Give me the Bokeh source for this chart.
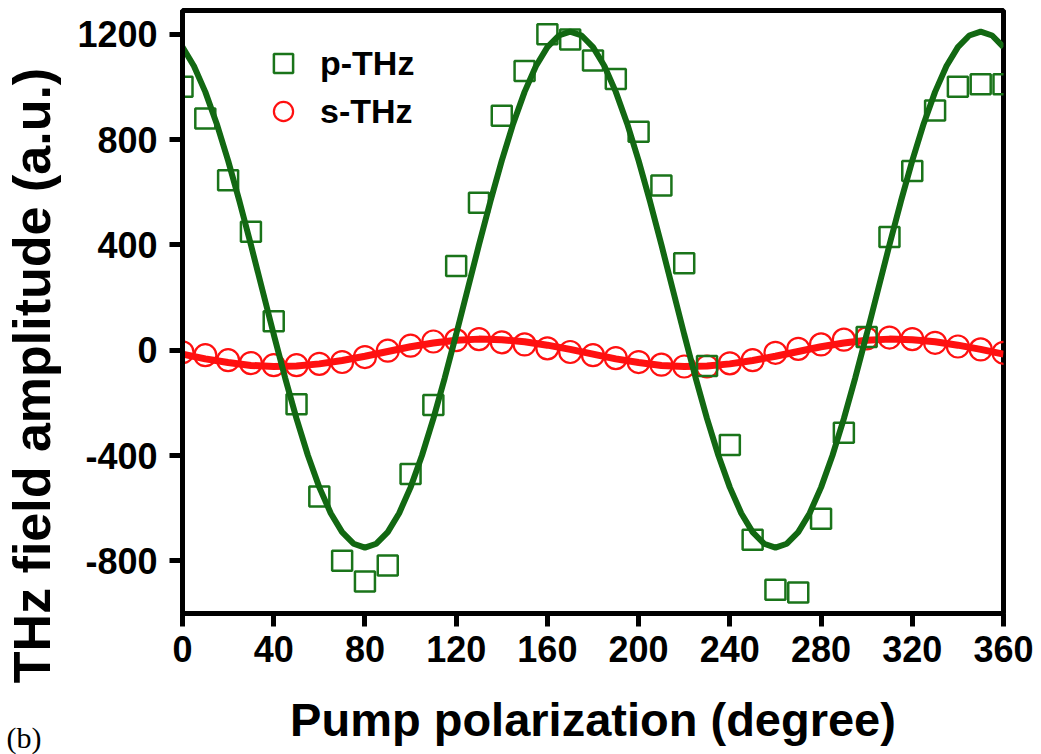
import math
from bokeh.plotting import figure
from bokeh.models import Range1d, FixedTicker, Label, Legend, LegendItem
from bokeh.embed import file_html
from bokeh.resources import INLINE

# ---- data ----
angle = list(range(0, 361, 10))
p_thz = [1000, 880, 645, 450, 110, -205, -556, -800, -878, -818, -470, -208,
         320, 560, 890, 1060, 1200, 1180, 1100, 1030, 830, 625, 330, -60,
         -360, -720, -910, -920, -640, -314, 50, 430, 680, 910, 1000, 1010, 1010]
s_thz = [-8, -19, -38, -49, -57, -57, -52, -45, -26, -2, 17, 33, 38, 42, 30, 22,
         7, -7, -19, -30, -45, -55, -62, -62, -50, -38, -10, 5, 22, 40, 45, 48,
         42, 28, 14, 3, -10]

p_fit_angle = list(range(0, 361, 5))
p_fit = [1151, 1079, 981, 860, 720, 565, 400, 230, 60, -105, -260, -400, -521,
         -619, -691, -735, -750, -735, -691, -619, -521, -400, -260, -105, 60,
         230, 400, 565, 720, 860, 981, 1079, 1151, 1195, 1210, 1195, 1151, 1079,
         981, 860, 720, 565, 400, 230, 60, -105, -260, -400, -521, -619, -691,
         -735, -750, -735, -691, -619, -521, -400, -260, -105, 60, 230, 400, 565,
         720, 860, 981, 1079, 1151, 1195, 1210, 1195, 1151]
s_fit_angle = list(range(0, 361, 10))
s_fit = [-15, -33, -47, -58, -62, -60, -52, -39, -23, -5, 13, 27, 38, 42, 40, 32,
         19, 3, -15, -33, -47, -58, -62, -60, -52, -39, -23, -5, 13, 27, 38, 42,
         40, 32, 19, 3, -15]

x_ticks = [0, 40, 80, 120, 160, 200, 240, 280, 320, 360]
y_ticks = [-800, -400, 0, 400, 800, 1200]
y_tick_labels = {-800: "-800", -400: "-400", 0: "0", 400: "400", 800: "800", 1200: "1200"}

FONT = "Liberation Sans"
GREEN_M = "#1a741a"
GREEN_L = "#126812"
RED = "#ff1010"

p = figure(width=1041, height=754, output_backend="svg", toolbar_location=None,
           x_range=Range1d(0, 360), y_range=Range1d(-1000, 1290),
           min_border_left=182, min_border_right=38, min_border_top=10,
           min_border_bottom=141)
p.background_fill_color = "white"
p.border_fill_color = "white"
p.grid.visible = False
p.outline_line_color = "black"
p.outline_line_width = 5

for ax in (p.xaxis[0], p.yaxis[0]):
    ax.axis_line_width = 5
    ax.major_tick_line_width = 5
    ax.major_tick_out = 13
    ax.major_tick_in = 0
    ax.minor_tick_line_color = None
    ax.major_label_text_font = FONT
    ax.major_label_text_font_style = "bold"
    ax.major_label_text_font_size = "36px"
    ax.major_label_text_color = "black"
p.xaxis[0].ticker = FixedTicker(ticks=x_ticks)
p.yaxis[0].ticker = FixedTicker(ticks=y_ticks)
p.yaxis[0].major_label_overrides = y_tick_labels
p.xaxis[0].major_label_standoff = 9
p.yaxis[0].major_label_standoff = 12

p.xaxis[0].axis_label = "Pump polarization (degree)"
p.xaxis[0].axis_label_text_font = FONT
p.xaxis[0].axis_label_text_font_style = "bold"
p.xaxis[0].axis_label_text_font_size = "47px"
p.xaxis[0].axis_label_text_color = "black"
p.xaxis[0].axis_label_standoff = 28

r_s = p.scatter(angle, s_thz, marker="circle", size=22, fill_color=None,
                line_color=RED, line_width=2.2)
p.line(s_fit_angle, s_fit, line_color=RED, line_width=7)
r_p = p.scatter(angle, p_thz, marker="square", size=20, fill_color=None,
                line_color=GREEN_M, line_width=2.5)
p.line(p_fit_angle, p_fit, line_color=GREEN_L, line_width=6)

legend = Legend(items=[LegendItem(label="p-THz", renderers=[r_p]),
                       LegendItem(label="s-THz", renderers=[r_s])],
                location=(77, 478), glyph_width=48, glyph_height=48,
                label_height=48, spacing=0, padding=0, margin=0,
                label_standoff=13, border_line_color=None,
                background_fill_alpha=0,
                label_text_font=FONT, label_text_font_style="bold",
                label_text_font_size="34px", label_text_color="black")
p.add_layout(legend)

p.add_layout(Label(x=15, y=238, x_units="screen", y_units="screen",
                   text="THz field amplitude (a.u.)", angle=math.pi / 2,
                   text_align="center", text_baseline="alphabetic",
                   text_font=FONT, text_font_style="bold",
                   text_font_size="52px", text_color="black"), "left")

p.add_layout(Label(x=-997, y=-124, x_units="screen", y_units="screen",
                   text="(b)", text_align="left", text_baseline="alphabetic",
                   text_font="Liberation Serif", text_font_size="30px",
                   text_color="black"), "right")

open("out.html", "w").write(file_html(p, INLINE))
